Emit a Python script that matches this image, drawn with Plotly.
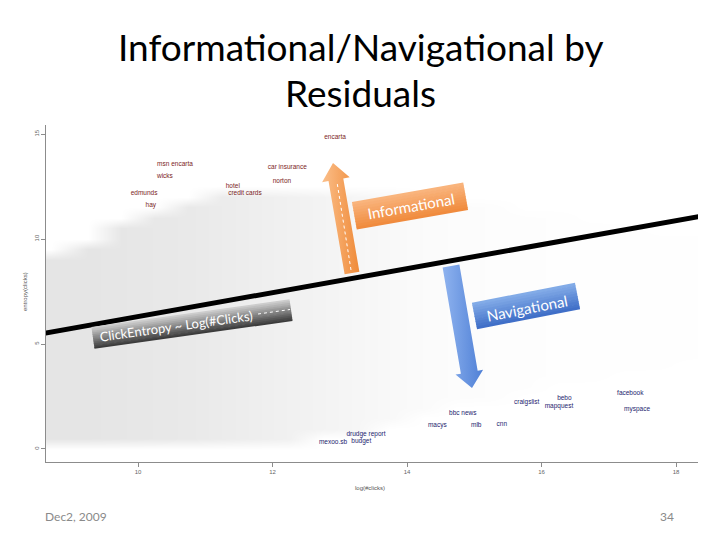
import math
import plotly.graph_objects as go

# ---------------- data ----------------
info_queries = ["encarta", "msn encarta", "car insurance", "wicks", "norton",
                "hotel", "credit cards", "edmunds", "hay"]
info_logclicks = [12.93, 10.55, 12.22, 10.40, 12.14, 11.41, 11.59, 10.09, 10.19]
info_entropy = [14.86, 13.57, 13.43, 13.00, 12.76, 12.52, 12.15, 12.19, 11.62]

nav_queries = ["facebook", "myspace", "craigslist", "bebo", "mapquest", "bbc news",
               "macys", "mlb", "cnn", "drudge report", "budget", "mexoo.sb"]
nav_logclicks = [17.32, 17.42, 15.78, 16.34, 16.26, 14.83, 14.45, 15.03, 15.41,
                 13.39, 13.32, 12.90]
nav_entropy = [2.67, 1.90, 2.24, 2.40, 2.05, 1.71, 1.14, 1.14, 1.19, 0.69, 0.36, 0.33]

# regression line ClickEntropy ~ Log(#Clicks)
fit_logclicks = [8.56, 18.39]
fit_entropy = [5.48, 11.10]

# background cloud of all queries (column-wise extent and relative density)
cloud_x = [8.7, 9.25, 9.75, 10.25, 10.75, 11.25, 11.75, 12.25, 12.75, 13.25,
           13.75, 14.25, 14.75, 15.25, 15.75, 16.25, 16.75, 17.25, 17.75, 18.25]
cloud_upper = [9.2, 9.8, 10.5, 11.1, 11.6, 12.0, 12.2, 12.4, 12.4, 12.3,
               12.1, 11.9, 11.7, 11.5, 11.3, 11.0, 10.8, 10.6, 10.4, 10.2]
cloud_lower = [0.4, 0.4, 0.4, 0.4, 0.4, 0.4, 0.4, 0.5, 0.6, 0.9,
               1.3, 1.7, 2.1, 2.5, 2.9, 3.2, 3.5, 3.8, 4.0, 4.3]
cloud_density = [1.0, 1.0, 0.95, 0.9, 0.85, 0.75, 0.65, 0.55, 0.45, 0.35,
                 0.25, 0.17, 0.12, 0.09, 0.07, 0.05, 0.04, 0.035, 0.03, 0.03]

x_ticks = [10, 12, 14, 16, 18]
y_ticks = [0, 5, 10, 15]

# ---------------- layout geometry ----------------
W, H = 720, 540
PX_L, PX_R, PX_T, PX_B = 46, 698, 125, 462
X_RANGE = [8.632, 18.327]
Y_RANGE = [-0.62, 15.43]

fig = go.Figure()

# cloud as smooth density
rows = [r * 0.5 for r in range(-1, 28)]
z = [[cloud_density[j] if cloud_lower[j] <= y <= cloud_upper[j] else 0
      for j in range(len(cloud_x))] for y in rows]
fig.add_trace(go.Heatmap(x=cloud_x, y=rows, z=z, zmin=0, zmax=1, zsmooth="best",
                         colorscale=[[0, "rgb(255,255,255)"], [1, "rgb(229,229,229)"]],
                         showscale=False, hoverinfo="skip", xaxis="x", yaxis="y"))

fig.add_trace(go.Scatter(x=fit_logclicks, y=fit_entropy, mode="lines",
                         line=dict(color="black", width=5), xaxis="x", yaxis="y"))

fig.add_trace(go.Scatter(x=info_logclicks, y=info_entropy, mode="text", text=info_queries,
                         textposition="middle center",
                         textfont=dict(size=6.5, color="#7b1c1c", family="Liberation Sans"),
                         xaxis="x", yaxis="y"))
fig.add_trace(go.Scatter(x=nav_logclicks, y=nav_entropy, mode="text", text=nav_queries,
                         textposition="middle center",
                         textfont=dict(size=6.5, color="#1c1c6e", family="Liberation Sans"),
                         xaxis="x", yaxis="y"))

# ---------------- decorations in page-pixel coordinates ----------------
def hex2rgb(c):
    c = c.lstrip("#")
    return [int(c[i:i + 2], 16) for i in (0, 2, 4)]


def lerp(c0, c1, t):
    a, b = hex2rgb(c0), hex2rgb(c1)
    return "rgb(%d,%d,%d)" % tuple(round(a[i] + (b[i] - a[i]) * t) for i in range(3))


def add_poly(xs, ys, color, **kw):
    fig.add_trace(go.Scatter(x=xs + [xs[0]], y=ys + [ys[0]], mode="lines", fill="toself",
                             fillcolor=color, line=dict(width=0, color=color),
                             xaxis="x2", yaxis="y2", hoverinfo="skip", **kw))


def gradient_box(cx, cy, w, h, ang, c_top, c_bot, n=10):
    a = math.radians(ang)
    ux, uy = math.cos(a), -math.sin(a)
    nx, ny = math.sin(a), math.cos(a)
    for k in range(n):
        t0 = -h / 2 + k * h / n
        t1 = min(h / 2, t0 + h / n + 0.7)
        xs, ys = [], []
        for s, t in ((-w / 2, t0), (w / 2, t0), (w / 2, t1), (-w / 2, t1)):
            xs.append(cx + ux * s + nx * t)
            ys.append(cy + uy * s + ny * t)
        add_poly(xs, ys, lerp(c_top, c_bot, (k + 0.5) / n))


def block_arrow(x0, y0, x1, y1, sw, hw, hl, c_left, c_right):
    L = math.hypot(x1 - x0, y1 - y0)
    ux, uy = (x1 - x0) / L, (y1 - y0) / L
    nx, ny = -uy, ux
    bx, by = x1 - ux * hl, y1 - uy * hl
    pts = [(x0 + nx * sw / 2, y0 + ny * sw / 2), (bx + nx * sw / 2, by + ny * sw / 2),
           (bx + nx * hw / 2, by + ny * hw / 2), (x1, y1),
           (bx - nx * hw / 2, by - ny * hw / 2), (bx - nx * sw / 2, by - ny * sw / 2),
           (x0 - nx * sw / 2, y0 - ny * sw / 2)]
    xs = [p[0] for p in pts]
    ys = [p[1] for p in pts]
    fig.add_trace(go.Scatter(x=xs + [xs[0]], y=ys + [ys[0]], mode="lines", fill="toself",
                             fillgradient=dict(type="horizontal",
                                               colorscale=[[0, c_left], [1, c_right]],
                                               start=min(xs), stop=max(xs)),
                             line=dict(width=0), xaxis="x2", yaxis="y2", hoverinfo="skip"))


# grey banner
gradient_box(192, 324, 200, 22, 8, "#d4d4d4", "#353535", n=12)
# orange arrow + box
block_arrow(352, 273, 333, 163, 15, 28, 17, "#fbbf8a", "#ef8a38")
fig.add_trace(go.Scatter(x=[351, 337], y=[270, 182], mode="lines",
                         line=dict(color="white", width=1, dash="3px,3px"),
                         xaxis="x2", yaxis="y2", hoverinfo="skip"))
gradient_box(410, 206, 113, 28, 10, "#f9b680", "#f0893a")
# blue arrow + box
block_arrow(451, 266, 472, 388, 17, 28, 16, "#8fb3ef", "#4f80d6")
gradient_box(526, 306, 105, 27, 11, "#86aee9", "#3c6cc6")
# dashed tail in banner
fig.add_trace(go.Scatter(x=[258, 290], y=[314, 309.5], mode="lines",
                         line=dict(color="white", width=1, dash="3px,3px"),
                         xaxis="x2", yaxis="y2", hoverinfo="skip"))

ann = []


def txt(x, y, s, size, color="black", family="Lato", angle=0, xanchor="center", **kw):
    ann.append(dict(x=x, y=y, xref="x2", yref="y2", text=s, showarrow=False,
                    font=dict(size=size, color=color, family=family),
                    textangle=angle, xanchor=xanchor, yanchor="middle", **kw))


txt(360, 46, "Informational/Navigational by", 37)
txt(360, 92, "Residuals", 37)
txt(176, 326, "ClickEntropy ~ Log(#Clicks)", 13, "white", angle=-8)
txt(411, 206, "Informational", 15, "white", angle=-10)
txt(527, 308, "Navigational", 15, "white", angle=-11)
txt(25, 292, "entropy(clicks)", 6, "#555555", family="Liberation Sans", angle=-90)
txt(370, 488, "log(#clicks)", 6, "#555555", family="Liberation Sans")
txt(43, 516, "Dec2, 2009", 12, "#8a8a8a", xanchor="left")
txt(676, 516, "34", 12, "#8a8a8a", xanchor="right")

axis_style = dict(showline=True, linecolor="#8c8c8c", linewidth=1, ticks="outside",
                  ticklen=4, tickcolor="#8c8c8c", tickfont=dict(size=6, color="#666666",
                                                               family="Liberation Sans"),
                  showgrid=False, zeroline=False, fixedrange=True)

fig.update_layout(
    width=W, height=H, margin=dict(l=0, r=0, t=0, b=0),
    paper_bgcolor="white", plot_bgcolor="rgba(0,0,0,0)", showlegend=False, hovermode=False,
    xaxis=dict(domain=[PX_L / W, PX_R / W], range=X_RANGE, tickvals=x_ticks, anchor="y",
               **axis_style),
    yaxis=dict(domain=[1 - PX_B / H, 1 - PX_T / H], range=Y_RANGE, tickvals=y_ticks,
               tickangle=-90, anchor="x", **axis_style),
    xaxis2=dict(domain=[0, 1], range=[0, W], visible=False, anchor="y2", fixedrange=True),
    yaxis2=dict(domain=[0, 1], range=[H, 0], visible=False, anchor="x2", fixedrange=True),
    annotations=ann,
)

fig.write_html("out.html")
